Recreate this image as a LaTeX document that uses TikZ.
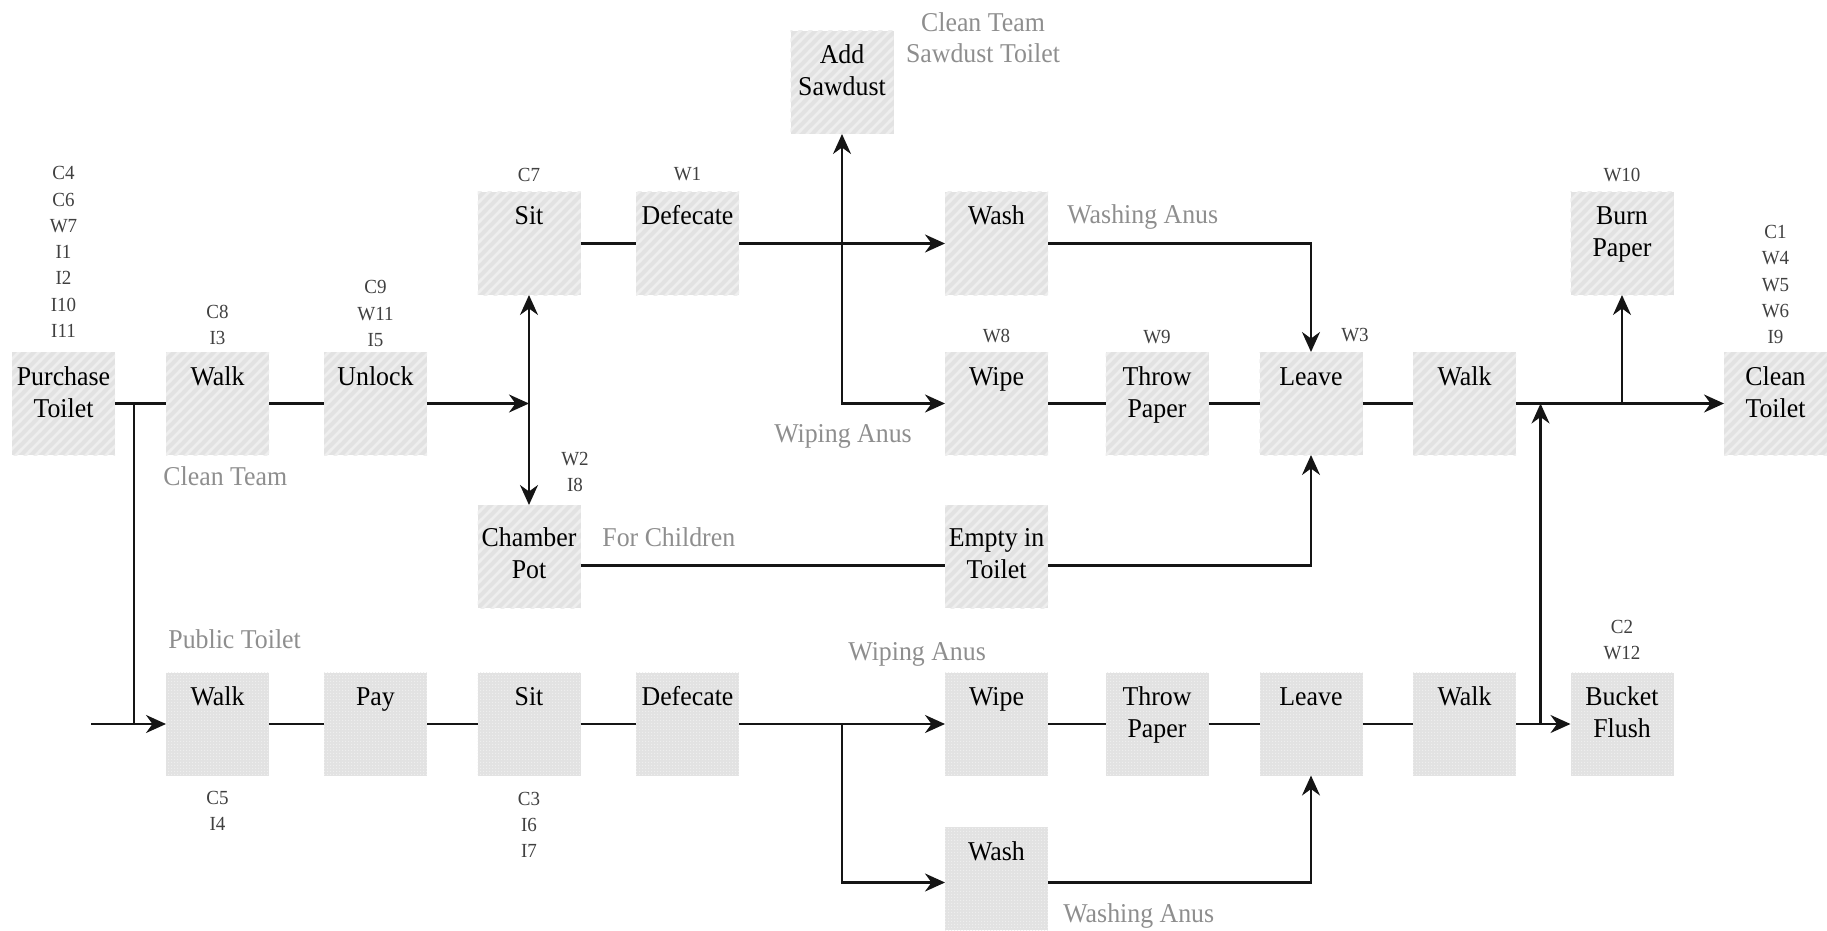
\documentclass[tikz,border=0pt]{standalone}
\usepackage{fontspec}
\setmainfont{Liberation Serif}[FakeStretch=0.95]
\usetikzlibrary{arrows.meta,patterns.meta,calc}

\definecolor{boxfill}{HTML}{E2E2E2}
\definecolor{hatchline}{HTML}{EEEEEE}
\definecolor{notegray}{HTML}{8E8E8E}
\definecolor{codegray}{HTML}{404040}
\definecolor{linecol}{HTML}{151515}

% fine diagonal hatching for the home-toilet steps
\tikzdeclarepattern{
  name=fhatch, type=uncolored,
  bounding box={(-1pt,-1pt) and (6pt,6pt)},
  tile size={(5pt,5pt)},
  code={\draw[line width=1.4pt] (-1pt,-1pt) -- (6pt,6pt);}
}
% fine checker grid for the public-toilet steps
\tikzdeclarepattern{
  name=fgrid, type=uncolored,
  bounding box={(0pt,0pt) and (1.5pt,1.5pt)},
  tile size={(1.5pt,1.5pt)},
  code={\fill (0pt,0pt) rectangle (0.75pt,0.75pt);}
}

% step text sits near the top of a fixed square; optional first-line drop
\newcommand\bx[2][16.5pt]{\parbox[c][51.5pt][t]{51.5pt}{\centering\rule{0pt}{#1}#2\par}}

\begin{document}
\begin{tikzpicture}[x=0.5pt,y=-0.5pt,
  basebox/.style={inner sep=0pt, outer sep=0pt, fill=boxfill,
    font=\fontsize{13.6}{16}\selectfont},
  stepbox/.style={basebox, postaction={pattern=fhatch, pattern color=hatchline}},
  pubbox/.style={basebox, postaction={pattern=fgrid, pattern color=hatchline}},
  note/.style={text=notegray, font=\fontsize{13.6}{15.5}\selectfont, inner sep=0pt},
  codetag/.style={text=codegray, font=\fontsize{10}{13.15}\selectfont, align=center, inner sep=0pt},
  conn/.style={draw=linecol, line width=1.05pt},
  arr/.style={conn, -{Stealth[length=10pt,width=9pt]}},
  biarr/.style={conn, {Stealth[length=10pt,width=9pt]}-{Stealth[length=10pt,width=9pt]}}
]
\useasboundingbox (0,0) rectangle (1827,931);

% ---- home route ----
\node[stepbox] (pt)     at (63.5,403.5)  {\bx{Purchase\\Toilet}};
\node[stepbox] (walka)  at (217.5,403.5) {\bx{Walk}};
\node[stepbox] (unlock) at (375.5,403.5) {\bx{Unlock}};
\node[stepbox] (sit)    at (529,243.5)   {\bx{Sit}};
\node[stepbox] (defa)   at (687.5,243.5) {\bx{Defecate}};
\node[stepbox] (saw)    at (842,82.5)    {\bx{Add\\Sawdust}};
\node[stepbox] (washa)  at (996.5,243.5) {\bx{Wash}};
\node[stepbox] (wipea)  at (996.5,403.5) {\bx{Wipe}};
\node[stepbox] (throwa) at (1157,403.5)  {\bx{Throw\\Paper}};
\node[stepbox] (leavea) at (1311,403.5)  {\bx{Leave}};
\node[stepbox] (walkb)  at (1464.5,403.5){\bx{Walk}};
\node[stepbox] (burn)   at (1622,243.5)  {\bx{Burn\\Paper}};
\node[stepbox] (clean)  at (1775.5,403.5){\bx{Clean\\Toilet}};
\node[stepbox] (cpot)   at (529,556.5)   {\bx[20.5pt]{Chamber\\Pot}};
\node[stepbox] (empty)  at (996.5,556.5) {\bx[20.5pt]{Empty in\\Toilet}};

% ---- public route ----
\node[pubbox] (pwalk)  at (217.5,724)  {\bx{Walk}};
\node[pubbox] (pay)    at (375.5,724)  {\bx{Pay}};
\node[pubbox] (psit)   at (529,724)    {\bx{Sit}};
\node[pubbox] (pdef)   at (687.5,724)  {\bx{Defecate}};
\node[pubbox] (pwipe)  at (996.5,724)  {\bx{Wipe}};
\node[pubbox] (pthrow) at (1157,724)   {\bx{Throw\\Paper}};
\node[pubbox] (pleave) at (1311,724)   {\bx{Leave}};
\node[pubbox] (pwalk2) at (1464.5,724) {\bx{Walk}};
\node[pubbox] (bucket) at (1622,724)   {\bx{Bucket\\Flush}};
\node[pubbox] (pwash)  at (996.5,878.5){\bx{Wash}};

% ---- connectors, home route ----
\coordinate (jpub) at (134,403.5);
\coordinate (pin)  at (91,724);
\draw[conn] (pt.east) -- (walka.west);
\draw[conn] (jpub) -- (jpub |- pwalk.west);
\draw[arr]  (pin) -- (pwalk.west);
\draw[conn] (walka.east) -- (unlock.west);
\draw[arr]  (unlock.east) -- (unlock.east -| sit.south);
\draw[biarr] (sit.south) -- (cpot.north);
\draw[conn] (sit.east) -- (defa.west);
\draw[arr]  (defa.east) -- (washa.west);
\draw[biarr] (saw.south) -- (saw.south |- wipea.west) -- (wipea.west);
\draw[arr]  (washa.east) -| (leavea.north);
\draw[conn] (wipea.east) -- (throwa.west);
\draw[conn] (throwa.east) -- (leavea.west);
\draw[conn] (leavea.east) -- (walkb.west);
\draw[arr]  (walkb.east) -- (clean.west);
\draw[arr]  (burn.south |- walkb.east) -- (burn.south);
\draw[conn] ([yshift=-4.5pt]cpot.east) -- ([yshift=-4.5pt]empty.west);
\draw[arr]  ([yshift=-4.5pt]empty.east) -| (leavea.south);

% ---- connectors, public route ----
\draw[conn] (pwalk.east) -- (pay.west);
\draw[conn] (pay.east) -- (psit.west);
\draw[conn] (psit.east) -- (pdef.west);
\draw[arr]  (pdef.east) -- (pwipe.west);
\draw[arr]  (saw.south |- pwipe.west) |- ([yshift=-2pt]pwash.west);
\draw[conn] (pwipe.east) -- (pthrow.west);
\draw[conn] (pthrow.east) -- (pleave.west);
\draw[conn] (pleave.east) -- (pwalk2.west);
\draw[arr]  (pwalk2.east) -- (bucket.west);
\coordinate (jup) at ($(pwalk2.east)!0.45!(bucket.west)$);
\draw[arr]  (jup) -- (jup |- walkb.east);
\draw[arr]  ([yshift=-2pt]pwash.east) -| (pleave.south);

% ---- route notes ----
\node[note, anchor=base west] (nclean)  at (163,485)  {Clean Team};
\node[note, anchor=base]      (nsawa)   at (983,32)   {Clean Team};
\node[note, anchor=base]      (nsawb)   at (983,63)   {Sawdust Toilet};
\node[note, anchor=base west] (nwasha)  at (1067,223) {Washing Anus};
\node[note, anchor=base]      (nwipea)  at (843,442)  {Wiping Anus};
\node[note, anchor=base west] (nchild)  at (602,546)  {For Children};
\node[note, anchor=base west] (npublic) at (168,648)  {Public Toilet};
\node[note, anchor=base west] (nwipeb)  at (848,660)  {Wiping Anus};
\node[note, anchor=base west] (nwashb)  at (1063,922) {Washing Anus};

% ---- codes ----
\node[codetag] (tpt)     at (63.5,252)    {C4\\C6\\W7\\I1\\I2\\I10\\I11};
\node[codetag] (twalka)  at (217.5,325)   {C8\\I3};
\node[codetag] (tunlock) at (375.5,313.5) {C9\\W11\\I5};
\node[codetag] (tsit)    at (529,175)     {C7};
\node[codetag] (tdef)    at (687.5,174)   {W1};
\node[codetag] (twipe)   at (996.5,336)   {W8};
\node[codetag] (tthrow)  at (1157,337)    {W9};
\node[codetag] (tleave)  at (1355,335)    {W3};
\node[codetag] (tburn)   at (1622,175)    {W10};
\node[codetag] (tclean)  at (1775.5,284.5){C1\\W4\\W5\\W6\\I9};
\node[codetag] (tcpot)   at (575,472)     {W2\\I8};
\node[codetag] (tbucket) at (1622,640)    {C2\\W12};
\node[codetag] (tpwalk)  at (217.5,811)   {C5\\I4};
\node[codetag] (tpsit)   at (529,825)     {C3\\I6\\I7};
\end{tikzpicture}
\end{document}
